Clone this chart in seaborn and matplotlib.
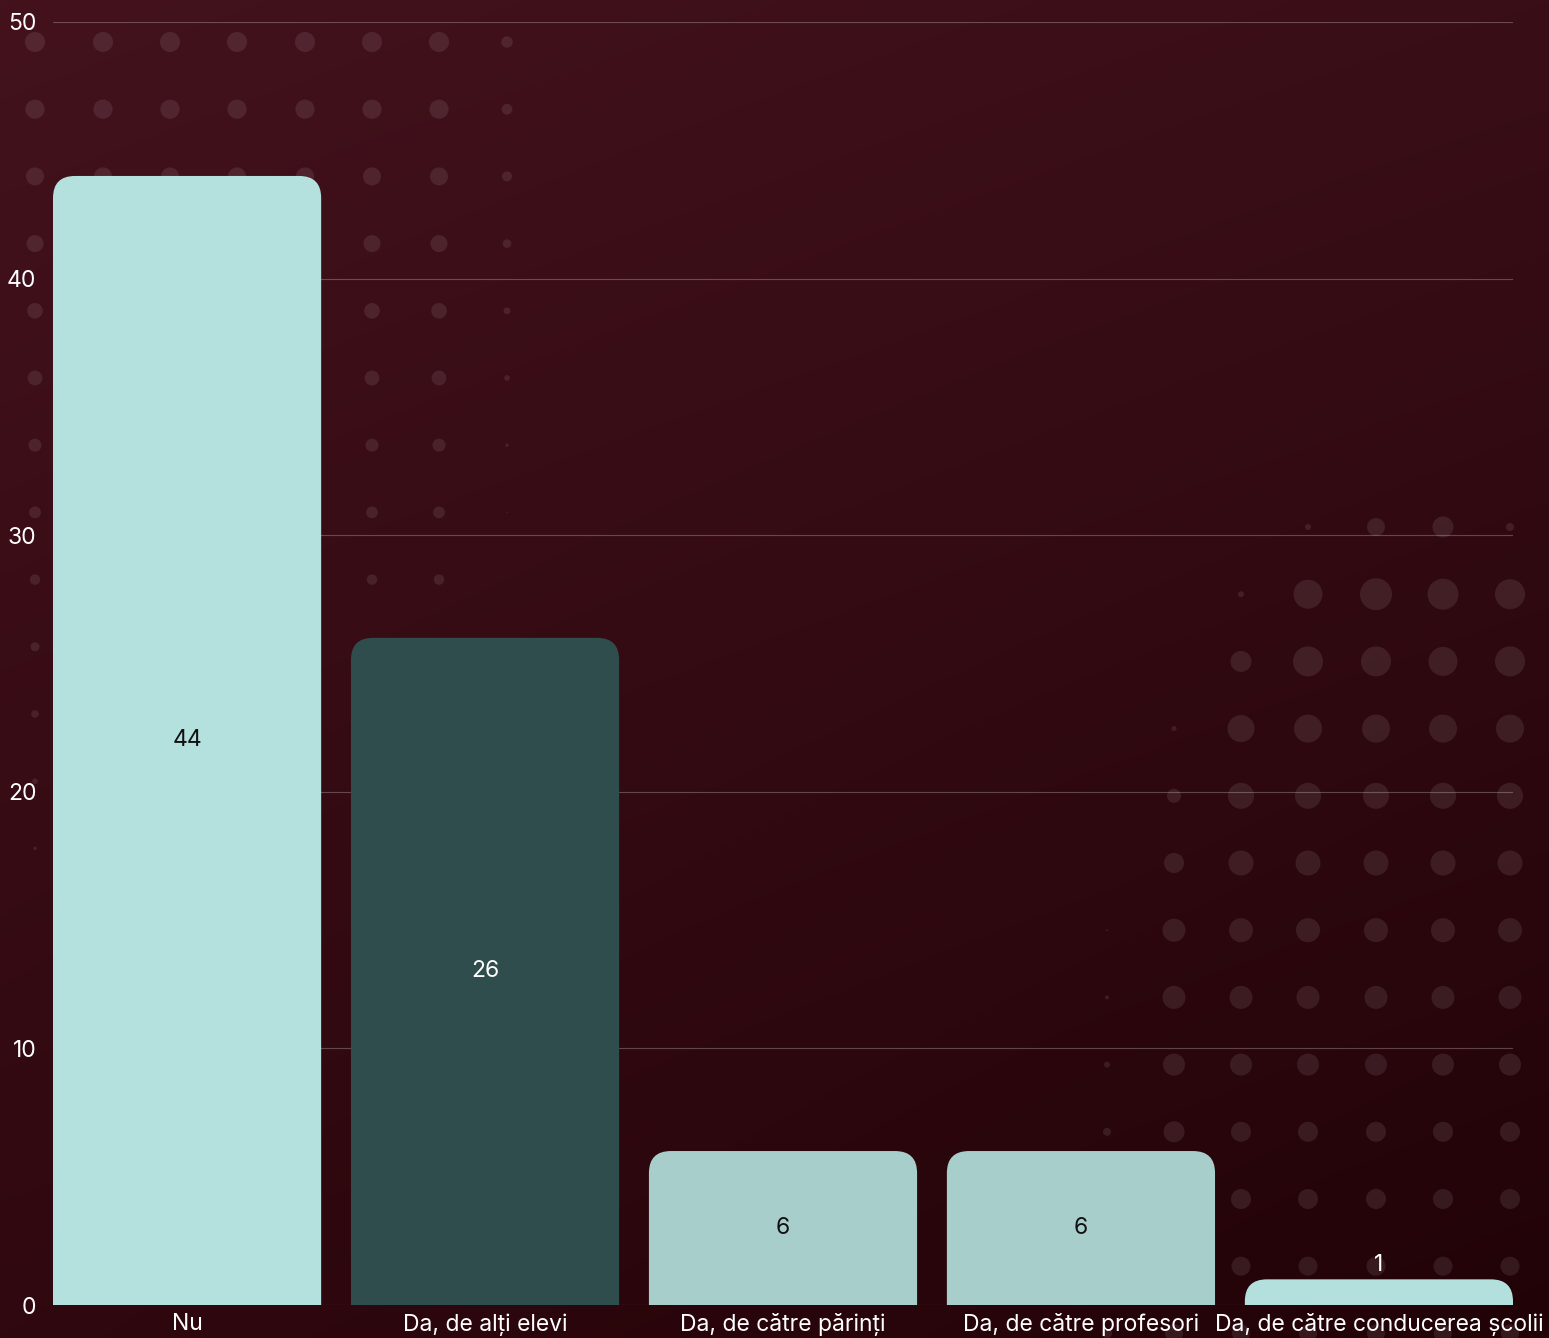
import numpy as np
import pandas as pd
import matplotlib
matplotlib.use("Agg")
import matplotlib.pyplot as plt
import seaborn as sns
from matplotlib.patches import FancyBboxPatch, Circle

# data
categories = ["Nu", "Da, de alți elevi", "Da, de către părinți",
              "Da, de către profesori", "Da, de către conducerea școlii"]
counts = [44, 26, 6, 6, 1]
bar_colors = ["#b4e1dd", "#2f4d4d", "#a8cecb", "#a8cecb", "#b3e0dc"]
label_colors = ["#111111", "#ffffff", "#111111", "#111111", "#ffffff"]
y_ticks = [0, 10, 20, 30, 40, 50]

df = pd.DataFrame({"answer": categories, "count": counts})

sns.set_theme(style="white")
plt.rcParams["font.family"] = ["Inter", "DejaVu Sans"]

W, H = 1549, 1338
fig = plt.figure(figsize=(W / 100, H / 100), dpi=100)

# background: diagonal maroon gradient
bg = fig.add_axes([0, 0, 1, 1], zorder=0)
bg.set_xlim(0, W)
bg.set_ylim(H, 0)
bg.axis("off")
gx, gy = np.meshgrid(np.linspace(0, 1, 200), np.linspace(0, 1, 200))
gx, gy = gx[..., None], gy[..., None]
tl = np.array([67, 18, 29])
tr = np.array([58, 14, 23])
bl = np.array([48, 8, 15])
br = np.array([33, 3, 7])
grad = (tl * (1 - gx) * (1 - gy) + tr * gx * (1 - gy)
        + bl * (1 - gx) * gy + br * gx * gy) / 255
bg.imshow(grad, extent=[0, W, H, 0], aspect="auto", interpolation="bilinear")

# decorative dot grids (pixel coords)
tl_x = [35, 103, 170, 237, 305, 372, 439, 507]
tl_y = [42 + 67.2 * k for k in range(13)]
tl_r = [10, 9.6, 9, 8.5, 7.8, 7.4, 6.5, 5.9, 5.2, 4.5, 3.8, 2.8, 1.7]
tl_r_last = [5.7, 5.4, 5, 4.3, 3.4, 2.8, 1.7, 0.7, 0, 0, 0, 0, 0]
for j, y in enumerate(tl_y):
    for i, x in enumerate(tl_x):
        r = tl_r_last[j] if i == 7 else tl_r[j]
        if r > 0:
            bg.add_patch(Circle((x, y), r, color="white", alpha=0.09, lw=0))

br_x = [1107, 1174, 1241, 1308, 1376, 1443, 1510]
br_y = [527 + 67.2 * k for k in range(13)]
br_r = [
    [0, 0, 0, 3, 9, 10.5, 4],
    [0, 0, 3, 14.5, 16, 15.5, 15],
    [0, 0, 10.5, 15, 15, 14.5, 15],
    [0, 2.5, 13.5, 14, 14, 14, 14],
    [0, 7, 13, 13, 13, 13, 13],
    [0, 10, 12.5, 12.5, 12.5, 12.5, 12.5],
    [1, 11.5, 12, 12, 12, 12, 12],
    [2, 11.5, 11.5, 11.5, 11.5, 11.5, 11.5],
    [3, 11, 11, 11, 11, 11, 11],
    [4, 10.5, 10, 10, 10, 10, 10],
    [5, 10, 10, 10, 10, 10, 10],
    [5, 9.5, 9.5, 9.5, 9.5, 9.5, 9.5],
    [5, 9, 9, 9, 9, 9, 9],
]
for j, y in enumerate(br_y):
    for i, x in enumerate(br_x):
        r = br_r[j][i]
        if r > 0:
            bg.add_patch(Circle((x, y), r, color="white", alpha=0.09, lw=0))

# main chart
ax = fig.add_axes([53 / W, 33 / H, 1460 / W, 1283 / H], zorder=1)
ax.patch.set_alpha(0)
bar_w = 0.9
sns.barplot(data=df, x="answer", y="count", hue="answer", palette=bar_colors,
            legend=False, ax=ax, width=bar_w, saturation=1)
ax.set_xlim(-bar_w / 2, len(categories) - 1 + bar_w / 2)
ax.set_ylim(0, 50)

# rounded top corners
px_x = 1460 / (len(categories) - 1 + bar_w)
px_y = 1283 / 50
rad = 22
rx = rad / px_x
m = (rad / px_y) / rx
for p in list(ax.patches):
    x0, w, h = p.get_x(), p.get_width(), p.get_height()
    fc = p.get_facecolor()
    p.remove()
    ax.add_patch(FancyBboxPatch((x0, -2), w, h + 2,
                                boxstyle=f"round,pad=0,rounding_size={rx}",
                                mutation_aspect=m, fc=fc, ec="none", zorder=2))

for i, v in enumerate(counts):
    if v >= 3:
        ax.text(i, v / 2, str(v), ha="center", va="center", fontsize=16.5,
                color=label_colors[i], zorder=3)
    else:
        ax.text(i, v + 0.56, str(v), ha="center", va="center", fontsize=16.5,
                color=label_colors[i], zorder=3)

ax.set_yticks(y_ticks)
ax.yaxis.grid(True, color="white", alpha=0.25, lw=0.8)
ax.xaxis.grid(False)
ax.set_axisbelow(True)
sns.despine(ax=ax, left=True, bottom=True)
ax.tick_params(axis="both", length=0, labelcolor="white", labelsize=16.5)
ax.tick_params(axis="y", pad=12)
ax.tick_params(axis="x", pad=6)
ax.set_xlabel("")
ax.set_ylabel("")

fig.savefig("out.png", dpi=100)
